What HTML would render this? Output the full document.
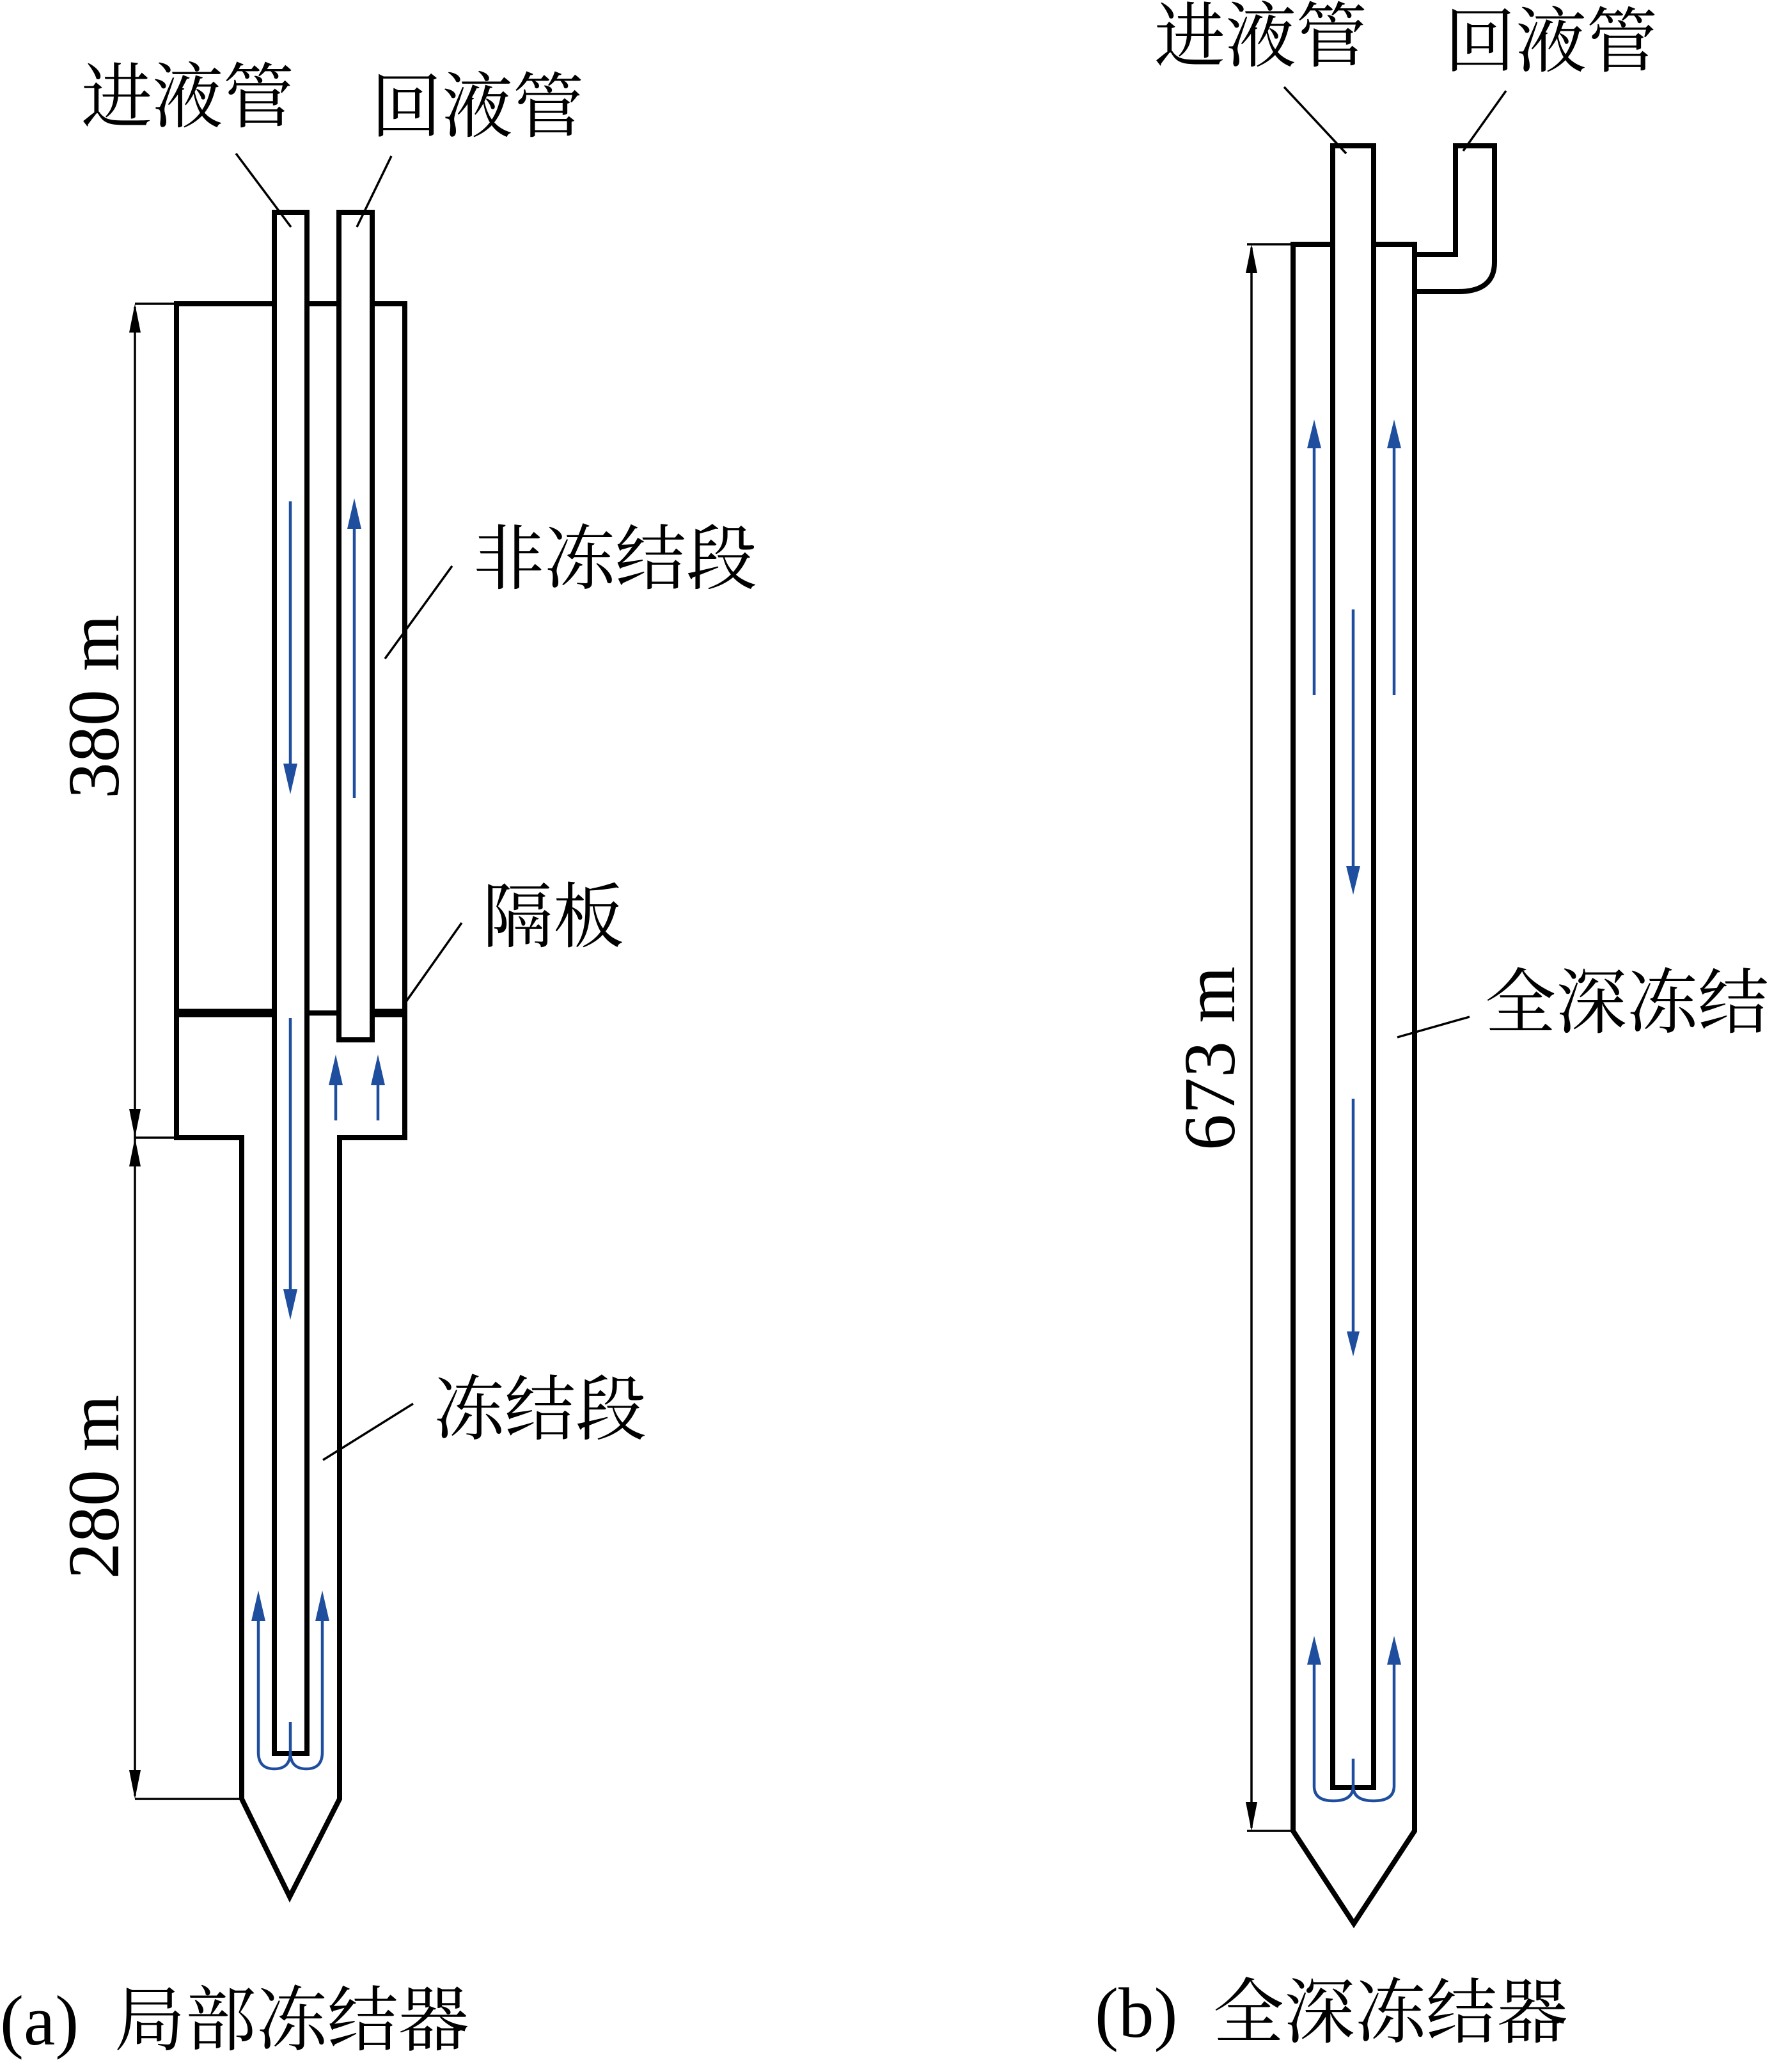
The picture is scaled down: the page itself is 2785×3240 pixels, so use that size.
<!DOCTYPE html>
<html><head><meta charset="utf-8"><style>
html,body{margin:0;padding:0;background:#fff;}
svg{display:block;}
.cn{font-family:"Liberation Serif","Noto Serif CJK SC",serif;font-size:111px;fill:#000;}
.num{font-family:"Liberation Serif",serif;font-size:114px;fill:#000;}
</style></head><body>
<svg width="2785" height="3240" viewBox="0 0 2785 3240" xmlns="http://www.w3.org/2000/svg">
<g fill="none" stroke="#000" stroke-width="8" stroke-linejoin="miter">
  <path d="M429,475 H276 V1779 H378 V2813 L453,2966 L531,2813 V1779 H633 V475 H582"/>
  <path d="M480,475 H530"/>
  <path d="M429,2742 V332 H480 V2742 Z"/>
  <path d="M530,1626 V332 H582 V1626 Z"/>
</g>
<g stroke="#000" stroke-width="13">
  <line x1="276" y1="1584" x2="429" y2="1584"/>
  <line x1="480" y1="1584" x2="530" y2="1584" stroke-width="8"/>
  <line x1="582" y1="1584" x2="636" y2="1584"/>
</g>
<g stroke="#000" stroke-width="3.5" fill="none">
  <line x1="211" y1="475" x2="276" y2="475"/>
  <line x1="211" y1="1779" x2="276" y2="1779"/>
  <line x1="211" y1="2813" x2="378" y2="2813"/>
  <line x1="211" y1="480" x2="211" y2="2808"/>
</g>
<g fill="#000">
  <polygon points="211,475 202,520 220,520"/>
  <polygon points="211,1779 202,1734 220,1734"/>
  <polygon points="211,1779 202,1824 220,1824"/>
  <polygon points="211,2813 202,2768 220,2768"/>
</g>
<text class="num" transform="translate(185,1105) rotate(-90)" text-anchor="middle">380 m</text>
<text class="num" transform="translate(185,2325) rotate(-90)" text-anchor="middle">280 m</text>
<g stroke="#000" stroke-width="3.5">
  <line x1="369" y1="240" x2="455" y2="355"/>
  <line x1="612" y1="244" x2="558" y2="355"/>
  <line x1="707" y1="885" x2="602" y2="1030"/>
  <line x1="722" y1="1443" x2="633" y2="1569"/>
  <line x1="646" y1="2195" x2="505" y2="2283"/>
</g>
<text class="cn" x="127" y="190">进液管</text>
<text class="cn" x="580" y="205">回液管</text>
<text class="cn" x="740" y="912">非冻结段</text>
<text class="cn" x="754" y="1472">隔板</text>
<text class="cn" x="678" y="2242">冻结段</text>
<text class="cn" x="0" y="3197">(a)&#160; 局部冻结器</text>
<g stroke="#1f4e9e" stroke-width="4.5" fill="none">
  <line x1="454" y1="784" x2="454" y2="1200"/>
  <line x1="554" y1="1248" x2="554" y2="820"/>
  <line x1="525" y1="1752" x2="525" y2="1690"/>
  <line x1="591" y1="1752" x2="591" y2="1690"/>
  <line x1="454" y1="1592" x2="454" y2="2020"/>
  <path d="M404,2530 V2740 Q404,2766 429,2766 Q454,2766 454,2740 Q454,2766 479,2766 Q504,2766 504,2740 V2530"/>
  <line x1="454" y1="2742" x2="454" y2="2693"/>
</g>
<g fill="#1f4e9e">
  <polygon points="454,1242 443,1194 465,1194"/>
  <polygon points="554,779 543,827 565,827"/>
  <polygon points="525,1649 514,1697 536,1697"/>
  <polygon points="591,1649 580,1697 602,1697"/>
  <polygon points="454,2064 443,2016 465,2016"/>
  <polygon points="404,2487 393,2535 415,2535"/>
  <polygon points="504,2487 493,2535 515,2535"/>
</g>

<!-- (b) -->
<g fill="none" stroke="#000" stroke-width="8">
  <path d="M2084,382 H2022 V2863 L2117,3008 L2212,2863 V382 H2148"/>
  <path d="M2084,2795 V228 H2148 V2795 Z"/>
  <path d="M2212,398 H2276 V228 H2337 V410 Q2337,456 2280,456 H2212"/>
</g>
<g stroke="#000" stroke-width="3.5" fill="none">
  <line x1="1950" y1="382" x2="2022" y2="382"/>
  <line x1="1950" y1="2863" x2="2022" y2="2863"/>
  <line x1="1957" y1="387" x2="1957" y2="2858"/>
  <line x1="2008" y1="136" x2="2105" y2="240"/>
  <line x1="2355" y1="142" x2="2288" y2="236"/>
  <line x1="2298" y1="1590" x2="2185" y2="1622"/>
</g>
<g fill="#000">
  <polygon points="1957,382 1948,427 1966,427"/>
  <polygon points="1957,2863 1948,2818 1966,2818"/>
</g>
<text class="num" transform="translate(1930,1655) rotate(-90)" text-anchor="middle">673 m</text>
<text class="cn" x="1805" y="95">进液管</text>
<text class="cn" x="2259" y="103">回液管</text>
<text class="cn" x="2322" y="1606">全深冻结</text>
<text class="cn" x="1712" y="3185">(b)&#160; 全深冻结器</text>
<g stroke="#1f4e9e" stroke-width="4.5" fill="none">
  <line x1="2055" y1="1087" x2="2055" y2="690"/>
  <line x1="2180" y1="1087" x2="2180" y2="690"/>
  <line x1="2116" y1="953" x2="2116" y2="1360"/>
  <line x1="2116" y1="1718" x2="2116" y2="2090"/>
  <path d="M2055,2595 V2793 Q2055,2816 2085,2816 Q2116,2816 2116,2793 Q2116,2816 2148,2816 Q2180,2816 2180,2793 V2595"/>
  <line x1="2116" y1="2795" x2="2116" y2="2750"/>
</g>
<g fill="#1f4e9e">
  <polygon points="2055,656 2044,701 2066,701"/>
  <polygon points="2180,656 2169,701 2191,701"/>
  <polygon points="2116,1399 2105,1354 2127,1354"/>
  <polygon points="2116,2121 2106,2082 2126,2082"/>
  <polygon points="2055,2558 2044,2603 2066,2603"/>
  <polygon points="2180,2558 2169,2603 2191,2603"/>
</g>
</svg>
</body></html>
